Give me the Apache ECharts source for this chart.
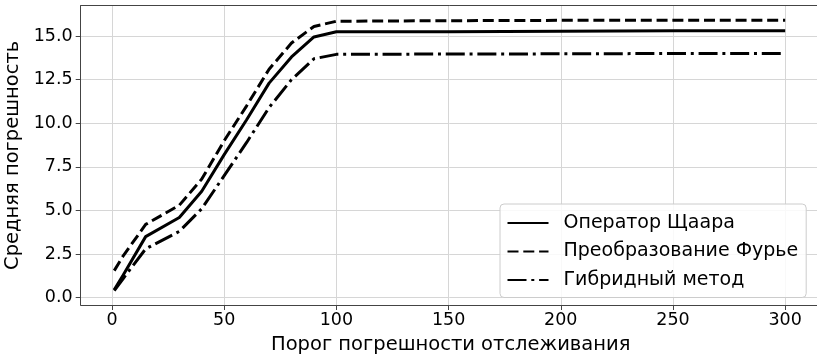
<!DOCTYPE html>
<html>
<head>
<meta charset="utf-8">
<script src="https://cdn.jsdelivr.net/npm/echarts@6/dist/echarts.min.js"></script>
<style>
  html, body { margin: 0; padding: 0; background: #fff; }
  #chart { width: 817px; height: 355px; }
</style>
</head>
<body>
<div id="chart"></div>
<script>
// пороги (ось X)
const thresholds = [1, 5, 15, 30, 40, 50, 60, 70, 80, 90, 100, 150, 200, 250, 300];

// средняя погрешность по методам
const scharr = [0.45, 1.3, 3.5, 4.6, 6.1, 8.2, 10.2, 12.3, 13.8, 14.95, 15.25, 15.25, 15.28, 15.3, 15.3];
const fourier = [1.55, 2.4, 4.2, 5.3, 6.8, 9.0, 11.0, 13.1, 14.6, 15.55, 15.85, 15.88, 15.9, 15.9, 15.9];
const hybrid = [0.4, 1.1, 2.8, 3.8, 5.1, 7.0, 8.9, 10.9, 12.5, 13.7, 13.95, 13.97, 13.98, 14.0, 14.0];

const seriesNames = ['Оператор Щаара', 'Преобразование Фурье', 'Гибридный метод'];

// подписи делений
const xTicks = [0, 50, 100, 150, 200, 250, 300];
const yTicks = [0, 2.5, 5, 7.5, 10, 12.5, 15];

const font = 'DejaVu Sans';
const pair = (ys) => thresholds.map((x, i) => [x, ys[i]]);
// рамка графика рисуется линиями осей
const spine = { show: true, onZero: false, lineStyle: { color: '#444', width: 1 } };

const chart = echarts.init(document.getElementById('chart'));

const makeLine = (name, ys, type) => ({
  name: name,
  type: 'line',
  data: pair(ys),
  symbol: 'none',
  showSymbol: false,
  lineStyle: { color: '#000', width: 3, type: type },
  itemStyle: { color: '#000' },
  animation: false
});

chart.setOption({
  animation: false,
  grid: {
    // правая граница рамки уходит за край картинки, как в оригинале
    left: 80.7, top: 5.7, width: 740, bottom: 50,
    outerBoundsMode: 'none',
    containLabel: false,
    show: false
  },
  xAxis: [{
    type: 'value',
    min: -13.95, max: 315.83,
    name: 'Порог погрешности отслеживания',
    nameLocation: 'middle',
    nameGap: 29.5,
    nameTextStyle: { fontFamily: font, fontSize: 19.5, color: '#000' },
    axisLine: spine,
    axisTick: { show: true, length: 5, lineStyle: { color: '#444' }, customValues: xTicks },
    axisLabel: { customValues: xTicks, fontFamily: font, fontSize: 17.5, color: '#000', margin: 6 },
    splitLine: { show: true, lineStyle: { color: '#d6d6d6', width: 1 } }
  }, {
    // верхняя рамка
    type: 'value',
    position: 'top',
    min: -13.95, max: 315.83,
    axisLine: spine,
    axisTick: { show: false },
    axisLabel: { show: false },
    splitLine: { show: false }
  }],
  yAxis: {
    type: 'value',
    min: -0.42, max: 16.74,
    name: 'Средняя погрешность',
    nameLocation: 'middle',
    nameRotate: 90,
    nameGap: 53,
    nameTextStyle: { fontFamily: font, fontSize: 19.5, color: '#000' },
    axisLine: spine,
    axisTick: { show: true, length: 5, lineStyle: { color: '#444' }, customValues: yTicks },
    axisLabel: {
      customValues: yTicks, fontFamily: font, fontSize: 17.5, color: '#000', margin: 8,
      formatter: (v) => v.toFixed(1)
    },
    splitLine: { show: true, lineStyle: { color: '#d6d6d6', width: 1 } }
  },
  legend: {
    data: seriesNames,
    orient: 'vertical',
    left: 500, top: 204,
    padding: [9.5, 8, 8, 6.5],
    itemWidth: 41,
    itemHeight: 14,
    itemGap: 9.5,
    backgroundColor: 'rgba(255,255,255,0.85)',
    borderColor: '#cccccc',
    borderWidth: 1,
    borderRadius: 4,
    itemStyle: { color: 'rgba(0,0,0,0)', opacity: 0, borderWidth: 0 },
    textStyle: { fontFamily: font, fontSize: 19, color: '#000', padding: [0, 0, 0, 10] }
  },
  series: [
    makeLine(seriesNames[0], scharr, 'solid'),
    makeLine(seriesNames[1], fourier, [11, 4.8]),
    makeLine(seriesNames[2], hybrid, [19, 4.8, 3, 4.8])
  ]
});
</script>
</body>
</html>
